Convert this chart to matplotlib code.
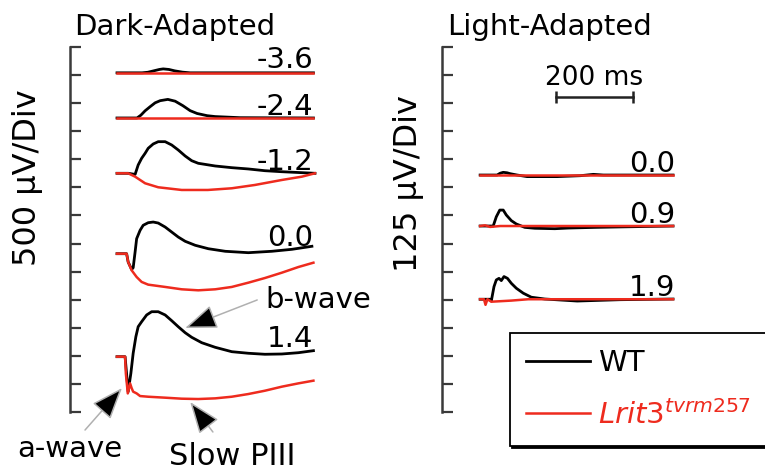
import numpy as np
import matplotlib.pyplot as plt

# ERG traces: time in ms from sweep start, amplitude in uV from baseline
# dark-adapted (500 uV/div)
dark_labels = ['-3.6', '-2.4', '-1.2', '0.0', '1.4']

wt_m36_t = [0, 65, 80, 95, 110, 120, 135, 150, 170, 190, 510]
wt_m36_v = [0, 0, 10, 35, 60, 70, 60, 35, 12, 0, 0]
ko_m36_t = [0, 510]
ko_m36_v = [0, 0]

wt_m24_t = [0, 52, 62, 73, 86, 99, 112, 132, 151, 171, 190, 208, 234, 255, 320, 510]
wt_m24_v = [0, 0, 50, 128, 201, 270, 308, 331, 299, 219, 130, 80, 41, 25, 5, 0]
ko_m24_t = [0, 510]
ko_m24_v = [0, 0]

wt_m12_t = [0, 29, 47, 55, 64, 73, 81, 94, 107, 125, 142, 159, 177, 194, 211, 255,
            298, 341, 384, 428, 514]
wt_m12_v = [0, 0, -20, 148, 267, 356, 445, 522, 563, 563, 504, 415, 308, 224, 178, 130,
            100, 77, 46, 28, 0]
ko_m12_t = [0, 29, 47, 73, 107, 168, 236, 298, 358, 428, 480, 514]
ko_m12_v = [0, 0, -60, -178, -249, -297, -297, -267, -208, -119, -60, 0]

wt_00_t = [0, 25, 29, 38, 42, 47, 51, 60, 68, 81, 94, 107, 125, 142, 159, 177, 203,
           237, 281, 341, 402, 454, 506]
wt_00_v = [0, 0, -148, -280, -250, 30, 267, 417, 506, 552, 564, 546, 475, 386, 297, 221,
           150, 89, 43, 18, 43, 78, 132]
ko_00_t = [0, 25, 29, 38, 51, 64, 81, 125, 168, 211, 255, 298, 341, 384, 428, 471, 510]
ko_00_v = [0, 0, -148, -295, -415, -503, -551, -592, -634, -652, -634, -592, -516, -433,
           -338, -237, -160]

wt_14_t = [0, 21, 29, 36, 42, 49, 55, 64, 77, 90, 107, 125, 142, 159, 177, 194, 220,
           255, 298, 341, 384, 428, 471, 510]
wt_14_v = [0, 0, -623, -297, 61, 356, 534, 623, 743, 801, 801, 743, 641, 534, 427, 345,
           249, 167, 89, 61, 43, 48, 71, 107]
ko_14_t = [0, 21, 23, 28, 34, 38, 42, 51, 60, 81, 125, 168, 211, 255, 298, 341, 384,
           428, 471, 510]
ko_14_v = [0, 0, -300, -654, -475, -560, -623, -654, -701, -713, -730, -748, -754, -742,
           -713, -665, -606, -534, -475, -427]

# light-adapted (125 uV/div)
light_labels = ['0.0', '0.9', '1.9']

la_wt_00_t = [0, 44, 52, 60, 70, 78, 96, 122, 200, 260, 294, 320, 364, 501]
la_wt_00_v = [0, 0, 8, 12, 10, 6, 0, -7, -7, -3, 3, 0, 0, 0]
la_ko_00_t = [0, 501]
la_ko_00_v = [0, 0]

la_wt_09_t = [0, 34, 42, 51, 60, 68, 81, 94, 116, 142, 194, 229, 300, 364, 501]
la_wt_09_v = [0, 0, 41, 71, 71, 49, 24, 9, -6, -10, -12, -9, -6, -4, 0]
la_ko_09_t = [0, 13, 26, 52, 501]
la_ko_09_v = [0, 3, -4, 0, 0]

la_wt_19_t = [0, 26, 29, 36, 42, 49, 55, 62, 71, 81, 94, 112, 133, 168, 252, 364, 501]
la_wt_19_v = [0, 0, -8, 56, 86, 93, 83, 101, 93, 71, 49, 27, 9, 1, -8, -2, 1]
la_ko_19_t = [0, 10, 14, 19, 29, 81, 125, 501]
la_ko_19_v = [0, 0, -25, 0, -11, -6, 0, 0]

scale_ms = 200

RED = '#ee2b1e'
AXC = '#3a3a3a'
W, H = 765, 474


def px_box(x0, y0, x1, y1):
    return [x0 / W, 1 - y1 / H, (x1 - x0) / W, (y1 - y0) / H]


fig = plt.figure(figsize=(W / 100, H / 100), dpi=100)
ax1 = fig.add_axes(px_box(70, 47, 330, 412))
ax2 = fig.add_axes(px_box(442, 47, 700, 412))

for ax, div in ((ax1, 500), (ax2, 125)):
    for s in ['top', 'right', 'bottom']:
        ax.spines[s].set_visible(False)
    ax.spines['left'].set_linewidth(1.8)
    ax.spines['left'].set_color(AXC)
    ax.set_xticks([])
    ax.set_ylim(0, 13 * div)
    ax.set_yticks(np.arange(0, 13 * div + 1, div))
    ax.tick_params(axis='y', direction='in', length=8, width=1.6,
                   color=AXC, labelleft=False)
    ax.patch.set_visible(False)

ax1.set_xlim(-122, 553)
ax2.set_xlim(-99, 571)

# dark-adapted
dark_base = [6040, 5236, 4251, 2819, 985]
dark_lab_gap = [87, 54, 60, 142, 170]
dark_wt = [(wt_m36_t, wt_m36_v), (wt_m24_t, wt_m24_v), (wt_m12_t, wt_m12_v),
           (wt_00_t, wt_00_v), (wt_14_t, wt_14_v)]
dark_ko = [(ko_m36_t, ko_m36_v), (ko_m24_t, ko_m24_v), (ko_m12_t, ko_m12_v),
           (ko_00_t, ko_00_v), (ko_14_t, ko_14_v)]
for (tw, vw), (tk, vk), b, lab, g in zip(dark_wt, dark_ko, dark_base, dark_labels, dark_lab_gap):
    h_wt, = ax1.plot(tw, np.array(vw) + b, color='black', lw=2.0, solid_joinstyle='round')
    h_ko, = ax1.plot(tk, np.array(vk) + b, color=RED, lw=1.8, solid_joinstyle='round')
    ax1.text(509, b + g, lab, ha='right', va='baseline', fontsize=21)

# light-adapted
light_base = [1055, 828, 502]
light_wt = [(la_wt_00_t, la_wt_00_v), (la_wt_09_t, la_wt_09_v), (la_wt_19_t, la_wt_19_v)]
light_ko = [(la_ko_00_t, la_ko_00_v), (la_ko_09_t, la_ko_09_v), (la_ko_19_t, la_ko_19_v)]
for (tw, vw), (tk, vk), b, lab in zip(light_wt, light_ko, light_base, light_labels):
    ax2.plot(tw, np.array(vw) + b, color='black', lw=2.0, solid_joinstyle='round')
    ax2.plot(tk, np.array(vk) + b, color=RED, lw=1.8, solid_joinstyle='round')
    ax2.text(506, b + 14, lab, ha='right', va='baseline', fontsize=21)

# time scale bar
ax2.plot([197, 197 + scale_ms], [1402, 1402], color='#222222', lw=1.8)
ax2.vlines([197, 197 + scale_ms], 1375, 1429, color='#222222', lw=1.8)
ax2.text(197 + scale_ms / 2, 1456, '%d ms' % scale_ms, ha='center', va='baseline', fontsize=19)

# titles and axis labels
fig.text(175 / W, 1 - 35 / H, 'Dark-Adapted', ha='center', va='baseline', fontsize=21)
fig.text(550 / W, 1 - 35 / H, 'Light-Adapted', ha='center', va='baseline', fontsize=21)
fig.text(28 / W, 1 - 178 / H, '500 \u00b5V/Div', rotation=90, ha='center', va='center', fontsize=23)
fig.text(408 / W, 1 - 184 / H, '125 \u00b5V/Div', rotation=90, ha='center', va='center', fontsize=23)

# component annotations
arrow_kw = dict(arrowstyle='-|>,head_length=1.0,head_width=0.38', mutation_scale=20,
                fc='black', ec='#b0b0b0', lw=1.1, shrinkA=0, shrinkB=0)
ax1.annotate('', xy=(177, 1496), xytext=(364, 1995), arrowprops=arrow_kw, annotation_clip=False)
ax1.annotate('', xy=(13, 427), xytext=(-83, -321), arrowprops=arrow_kw, annotation_clip=False)
ax1.annotate('', xy=(190, 178), xytext=(249, -356), arrowprops=arrow_kw, annotation_clip=False)
ax1.text(384, 1852, 'b-wave', ha='left', va='baseline', fontsize=21, clip_on=False)
ax1.text(-122, -801, 'a-wave', ha='center', va='baseline', fontsize=21, clip_on=False)
ax1.text(299, -944, 'Slow PIII', ha='center', va='baseline', fontsize=22, clip_on=False)

leg = fig.legend([h_wt, h_ko], ['WT', r'$\mathit{Lrit3}^{\mathit{tvrm257}}$'],
                 loc='upper left', bbox_to_anchor=(510 / W, 1 - 448 / H, 300 / W, 115 / H),
                 mode='expand', borderaxespad=0, fontsize=21, labelcolor='linecolor',
                 fancybox=False, edgecolor='black', framealpha=1, borderpad=0.55,
                 labelspacing=0.78, handlelength=2.2, handletextpad=0.28,
                 shadow={'color': 'black', 'alpha': 1, 'ox': 1.6, 'oy': -1.6})
leg.get_frame().set_linewidth(1.3)

fig.savefig('out.png', dpi=100)
